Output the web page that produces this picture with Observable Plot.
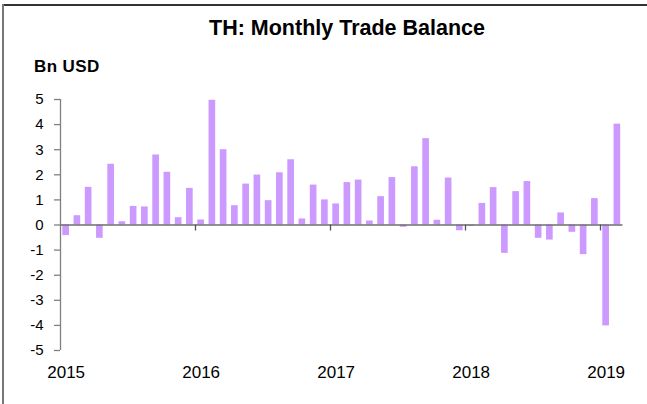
<!DOCTYPE html>
<html>
<head>
<meta charset="utf-8">
<script src="https://cdn.jsdelivr.net/npm/d3@7"></script>
<script src="https://cdn.jsdelivr.net/npm/@observablehq/plot@0.6"></script>
<style>
  body { margin: 0; background: #fff; font-family: Arial, "Liberation Sans", sans-serif; }
  #wrap { position: relative; width: 647px; height: 404px; overflow: hidden; background: #fff; }
  #frameTop { position: absolute; left: 3px; top: 4px; width: 644px; height: 2px; background: #333; }
  #frameLeft { position: absolute; left: 2px; top: 4px; width: 2px; height: 400px; background: #777; }
  #title { position: absolute; left: 0; width: 694px; top: 16px; text-align: center; font-weight: bold; font-size: 21.5px; color: #000; }
  #unit { position: absolute; left: 34px; top: 57px; font-weight: bold; font-size: 17px; letter-spacing: 0.4px; color: #000; }
  #chart { position: absolute; left: 0; top: 83px; }
</style>
</head>
<body>
<div id="wrap">
  <div id="frameTop"></div>
  <div id="frameLeft"></div>
  <div id="title">TH: Monthly Trade Balance</div>
  <div id="unit">Bn USD</div>
  <div id="chart"></div>
</div>
<script>
// Monthly trade balance, Bn USD (Jan 2015 – Feb 2019)
const years = ["2015", "2016", "2017", "2018", "2019"];
const tb2015 = [-0.42, 0.37, 1.50, -0.53, 2.42, 0.13, 0.74, 0.72, 2.79, 2.10, 0.29, 1.46];
const tb2016 = [0.20, 4.97, 3.00, 0.77, 1.63, 1.99, 0.97, 2.08, 2.60, 0.24, 1.59, 1.00];
const tb2017 = [0.84, 1.69, 1.79, 0.16, 1.13, 1.89, -0.09, 2.32, 3.44, 0.19, 1.87, -0.23];
const tb2018 = [-0.05, 0.86, 1.49, -1.13, 1.33, 1.73, -0.53, -0.60, 0.48, -0.29, -1.18, 1.05];
const tb2019 = [-4.02, 4.02];
const yTicks = [-5, -4, -3, -2, -1, 0, 1, 2, 3, 4, 5];

const series = [tb2015, tb2016, tb2017, tb2018, tb2019];
const data = [];
series.forEach((vals, yi) => {
  vals.forEach((v, m) => data.push({year: years[yi], month: m + 1, i: yi * 12 + m, value: v}));
});
const nMonths = data.length;
const yearStarts = years.map((y, k) => k * 12).filter(v => v > 0 && v < nMonths);
const yearLabelPos = years.map((y, k) => k * 12 + 0.5);

const axisGray = "#808080";

const chart = Plot.plot({
  width: 647,
  height: 321,
  marginLeft: 60,
  marginRight: 24.5,
  marginTop: 16,
  marginBottom: 54,
  style: { fontFamily: "Arial, 'Liberation Sans', sans-serif", background: "transparent", color: "#000" },
  x: { domain: [0, nMonths], axis: null },
  y: { domain: [-5, 5], axis: null },
  marks: [
    Plot.rectY(data, { x1: "i", x2: d => d.i + 1, y: "value", insetLeft: 2.3, insetRight: 2.3, fill: "#cc99ff" }),
    // y axis line
    Plot.ruleX([0], { y1: -5, y2: 5, stroke: axisGray, strokeWidth: 1.3 }),
    // y tick marks (outward)
    Plot.ruleY(yTicks, { y: d => d, x1: 0, x2: 0, insetLeft: -6, stroke: axisGray, strokeWidth: 1.3 }),
    // zero line
    Plot.ruleY([0], { x1: 0, x2: nMonths, stroke: "#6e6e6e", strokeWidth: 1.3 }),
    // year boundary ticks on zero line
    Plot.ruleX(yearStarts, { x: d => d, y1: 0, y2: 0, insetBottom: -6, stroke: "#555", strokeWidth: 1.3 }),
    Plot.axisY(yTicks, { label: null, tickSize: 0, tickPadding: 17, fontSize: 15, tickFormat: d => String(d) }),
    Plot.axisX(yearLabelPos, { label: null, tickSize: 0, tickPadding: 15, fontSize: 17, letterSpacing: 0.5, tickFormat: (d, i) => years[i] })
  ]
});
document.getElementById("chart").appendChild(chart);
</script>
</body>
</html>
